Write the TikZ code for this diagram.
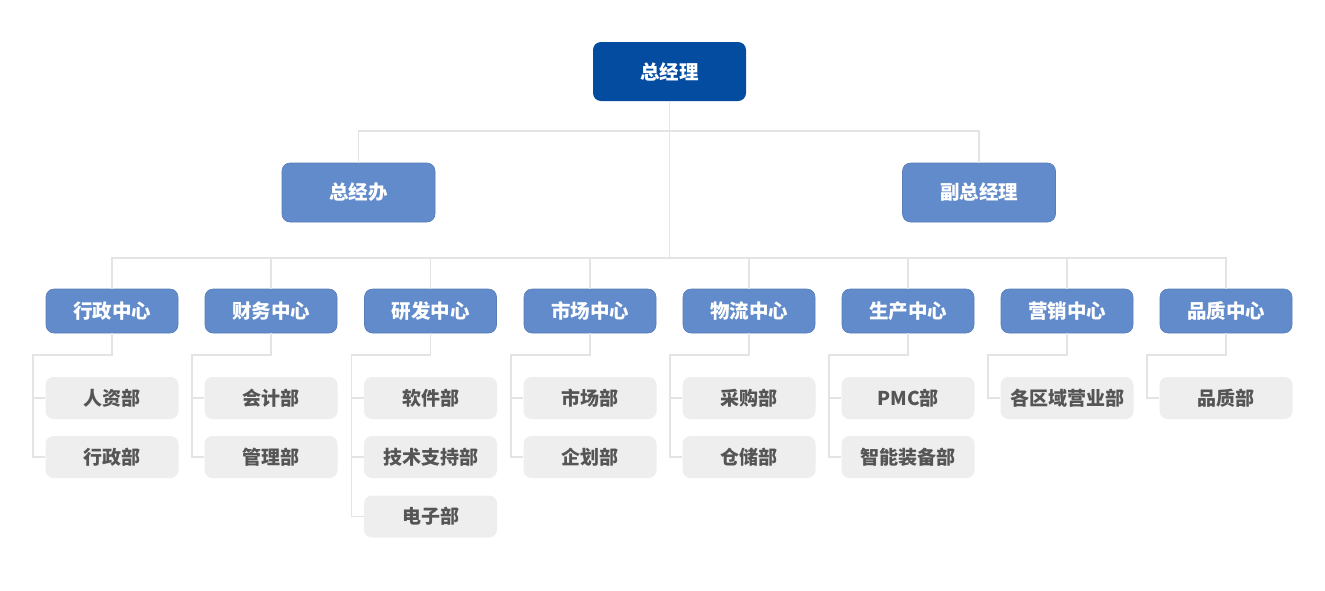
\documentclass[tikz,border=0pt]{standalone}
\usepackage{fontspec}
\setmainfont{Noto Sans CJK SC}
\definecolor{bossblue}{RGB}{4,76,160}
\definecolor{unitblue}{RGB}{98,139,203}
\definecolor{deptgray}{RGB}{238,238,238}
\definecolor{depttext}{RGB}{85,85,85}
\definecolor{linkgray}{RGB}{228,228,228}
\tikzset{
	boss/.style={fill=bossblue, rounded corners=8pt, minimum width=153pt, minimum height=59pt, inner sep=0pt, text=white, font=\fontsize{19.5}{19.5}\selectfont\bfseries},
	office/.style={boss, fill=unitblue, draw=unitblue!90!black, line width=0.6pt},
	unit/.style={office, minimum width=132pt, minimum height=44pt},
	dept/.style={fill=deptgray, rounded corners=8pt, minimum width=133pt, minimum height=42pt, inner sep=0pt, text=depttext, font=\fontsize{19}{19}\selectfont\bfseries},
	link/.style={draw=linkgray, line width=1.6pt}
}

\begin{document}
\begin{tikzpicture}[x=1pt, y=-1pt]
	\useasboundingbox[fill=white] (0,0) rectangle (1325,590);
	% top levels
	\node[boss] (zjl) at (669.5,71.5) {总经理};
	\node[office] (zjb) at (358.5,192.5) {总经办};
	\node[office] (fzjl) at (979,192.5) {副总经理};
	% centres
	\node[unit] (xz) at (112,311) {行政中心};
	\node[unit] (cw) at (271,311) {财务中心};
	\node[unit] (yf) at (430.5,311) {研发中心};
	\node[unit] (sc) at (590,311) {市场中心};
	\node[unit] (wl) at (749,311) {物流中心};
	\node[unit] (scz) at (908,311) {生产中心};
	\node[unit] (yx) at (1067,311) {营销中心};
	\node[unit] (pz) at (1226,311) {品质中心};
	% departments
	\node[dept] (xz1) at (112,398) {人资部};
	\node[dept] (xz2) at (112,457) {行政部};
	\node[dept] (cw1) at (271,398) {会计部};
	\node[dept] (cw2) at (271,457) {管理部};
	\node[dept] (yf1) at (430.5,398) {软件部};
	\node[dept] (yf2) at (430.5,457) {技术支持部};
	\node[dept] (yf3) at (430.5,516.5) {电子部};
	\node[dept] (sc1) at (590,398) {市场部};
	\node[dept] (sc2) at (590,457) {企划部};
	\node[dept] (wl1) at (749,398) {采购部};
	\node[dept] (wl2) at (749,457) {仓储部};
	\node[dept] (scz1) at (908,398) {PMC部};
	\node[dept] (scz2) at (908,457) {智能装备部};
	\node[dept] (yx1) at (1067,398) {各区域营业部};
	\node[dept] (pz1) at (1226,398) {品质部};
	% buses
	\coordinate (bus1) at (669.5,131);
	\coordinate (bus2) at (669.5,258);
	\draw[link] (zjl.south) -- (bus2);
	\draw[link] (zjb.north) |- (bus1) -| (fzjl.north);
	\draw[link] (xz.north) |- (bus2) -| (pz.north);
	\draw[link] (bus2) -| (cw.north);
	\draw[link] (bus2) -| (yf.north);
	\draw[link] (bus2) -| (sc.north);
	\draw[link] (bus2) -| (wl.north);
	\draw[link] (bus2) -| (scz.north);
	\draw[link] (bus2) -| (yx.north);
	% brackets
	\coordinate (xzk) at (33,355);
	\coordinate (cwk) at (192,355);
	\coordinate (yfk) at (351.5,355);
	\coordinate (sck) at (511,355);
	\coordinate (wlk) at (670,355);
	\coordinate (sczk) at (829,355);
	\coordinate (yxk) at (988,355);
	\coordinate (pzk) at (1147,355);
	\draw[link] (xz.south) |- (xzk) |- (xz2.west);
	\draw[link] (xzk) |- (xz1.west);
	\draw[link] (cw.south) |- (cwk) |- (cw2.west);
	\draw[link] (cwk) |- (cw1.west);
	\draw[link] (yf.south) |- (yfk) |- (yf3.west);
	\draw[link] (yfk) |- (yf1.west);
	\draw[link] (yfk) |- (yf2.west);
	\draw[link] (sc.south) |- (sck) |- (sc2.west);
	\draw[link] (sck) |- (sc1.west);
	\draw[link] (wl.south) |- (wlk) |- (wl2.west);
	\draw[link] (wlk) |- (wl1.west);
	\draw[link] (scz.south) |- (sczk) |- (scz2.west);
	\draw[link] (sczk) |- (scz1.west);
	\draw[link] (yx.south) |- (yxk) |- (yx1.west);
	\draw[link] (pz.south) |- (pzk) |- (pz1.west);
\end{tikzpicture}
\end{document}
